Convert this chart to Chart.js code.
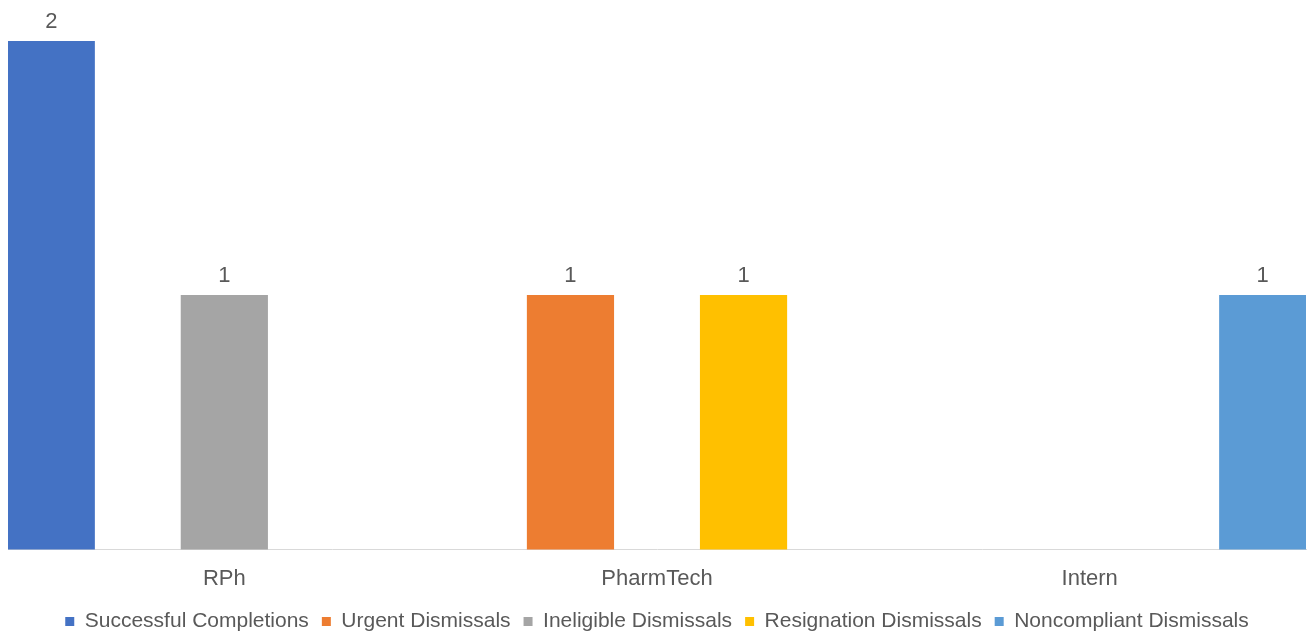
<!DOCTYPE html>
<html>
<head>
<meta charset="utf-8">
<script src="https://cdn.jsdelivr.net/npm/chart.js@4.4.1/dist/chart.umd.min.js"></script>
<style>
  html, body { margin: 0; padding: 0; background: #fff; }
  #wrap { width: 1310px; height: 637px; }
</style>
</head>
<body>
<div id="wrap"><canvas id="staffChart" width="1310" height="637"></canvas></div>
<script>
const categories = ['RPh', 'PharmTech', 'Intern'];
const seriesNames = ['Successful Completions', 'Urgent Dismissals', 'Ineligible Dismissals', 'Resignation Dismissals', 'Noncompliant Dismissals'];
const successful = [2, 0, 0];
const urgent = [0, 1, 0];
const ineligible = [1, 0, 0];
const resignation = [0, 1, 0];
const noncompliant = [0, 0, 1];
const seriesColors = ['#4472C4', '#ED7D31', '#A5A5A5', '#FFC000', '#5B9BD5'];

const textColor = '#595959';
const fontFamily = '"Liberation Sans", Arial, sans-serif';

// labels above non-zero bars
const barLabels = {
  id: 'barLabels',
  afterDatasetsDraw(chart) {
    const ctx = chart.ctx;
    ctx.save();
    ctx.fillStyle = textColor;
    ctx.font = '22px ' + fontFamily;
    ctx.textAlign = 'center';
    ctx.textBaseline = 'alphabetic';
    chart.data.datasets.forEach((ds, i) => {
      const meta = chart.getDatasetMeta(i);
      meta.data.forEach((bar, j) => {
        if (!ds.data[j]) return;
        ctx.fillText(String(ds.data[j]), bar.x, bar.y - 13);
      });
    });
    ctx.restore();
  }
};

const allData = [successful, urgent, ineligible, resignation, noncompliant];

new Chart(document.getElementById('staffChart').getContext('2d'), {
  type: 'bar',
  data: {
    labels: categories,
    datasets: seriesNames.map((name, i) => ({
      label: name,
      data: allData[i],
      // zero bars would leave a hairline, so hide them
      backgroundColor: c => (c.raw ? seriesColors[i] : 'rgba(0,0,0,0)'),
      borderWidth: 0,
      barPercentage: 1,
      categoryPercentage: 1
    }))
  },
  options: {
    responsive: false,
    animation: false,
    layout: {
      padding: { left: 8, right: 4, top: 41, bottom: -5 }
    },
    plugins: {
      legend: {
        position: 'bottom',
        labels: {
          boxWidth: 9,
          boxHeight: 9,
          padding: 13,
          color: textColor,
          generateLabels: chart => seriesNames.map((name, i) => ({
            text: name,
            fillStyle: seriesColors[i],
            strokeStyle: seriesColors[i],
            lineWidth: 0,
            hidden: false,
            datasetIndex: i,
            fontColor: textColor
          })),
          font: { family: fontFamily, size: 21 }
        }
      },
      tooltip: { enabled: false }
    },
    scales: {
      x: {
        grid: { display: false, drawTicks: false },
        border: { display: true, color: '#D9D9D9', width: 1 },
        ticks: {
          color: textColor,
          padding: 16,
          font: { family: fontFamily, size: 22 }
        },
        afterFit: scale => { scale.height -= 10; }
      },
      y: {
        display: false,
        min: 0,
        max: 2,
        beginAtZero: true
      }
    }
  },
  plugins: [barLabels]
});
</script>
</body>
</html>
